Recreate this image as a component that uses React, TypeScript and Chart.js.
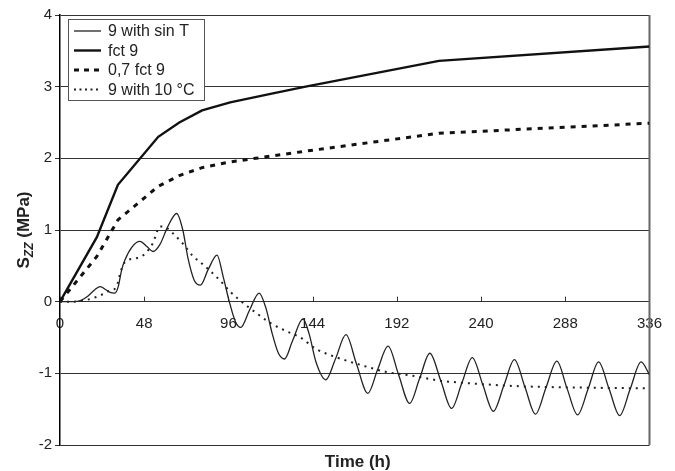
import { useEffect, useRef } from 'react';
import { Chart, registerables } from 'chart.js';
Chart.register(...registerables);

// ---- data ----
const sinTHours = [0, 8, 12, 16, 20, 23, 26, 28.5, 31.3, 33.2, 35.1, 37, 41, 45.5, 49.5, 53, 57, 61.5, 66.5, 70, 73, 76.5, 80, 84.5, 89.5, 93, 96.5, 100, 103, 108, 113.5, 117.5, 121, 124.5, 128, 132.5, 138.5, 142, 146, 151.5, 157, 163, 169, 175.5, 181, 187, 193, 199.3, 205, 210.8, 217, 223.2, 229, 235, 241, 247, 253, 259, 265, 271, 277, 283.2, 289, 295, 301, 307, 313, 319, 325, 331.2, 336];
const sinTValues = [0, 0, 0.02, 0.08, 0.17, 0.21, 0.17, 0.13, 0.12, 0.21, 0.44, 0.58, 0.76, 0.84, 0.77, 0.7, 0.8, 1.05, 1.23, 1.0, 0.6, 0.3, 0.23, 0.45, 0.65, 0.35, 0.0, -0.28, -0.36, -0.12, 0.12, -0.1, -0.45, -0.72, -0.8, -0.55, -0.24, -0.45, -0.85, -1.09, -0.8, -0.46, -0.87, -1.28, -0.95, -0.62, -1.02, -1.42, -1.07, -0.72, -1.1, -1.49, -1.14, -0.78, -1.16, -1.53, -1.17, -0.81, -1.19, -1.57, -1.2, -0.83, -1.21, -1.58, -1.22, -0.84, -1.22, -1.59, -1.22, -0.84, -1.02];

const fct9Hours = [0, 21, 33, 56, 68, 81, 97, 120, 140, 216, 336];
const fct9Values = [0, 0.9, 1.63, 2.3, 2.5, 2.67, 2.78, 2.9, 3.0, 3.36, 3.56];

const fct07Hours = [0, 21, 33, 56, 68, 81, 97, 120, 140, 216, 336];
const fct07Values = [0, 0.63, 1.14, 1.61, 1.76, 1.87, 1.95, 2.03, 2.1, 2.35, 2.49];

const tenCHours = [0, 8, 14, 19, 24, 28, 32, 35, 37, 44, 48, 53, 57, 60, 64.5, 70, 76, 80, 86, 91, 97, 101, 106, 112, 120, 128, 137, 146, 158, 171, 186, 200, 216, 240, 262, 300, 336];
const tenCValues = [0, 0, 0.02, 0.05, 0.1, 0.15, 0.2, 0.45, 0.55, 0.61, 0.66, 0.82, 1.05, 1.04, 0.95, 0.81, 0.63, 0.55, 0.42, 0.3, 0.14, 0.05, -0.05, -0.16, -0.3, -0.4, -0.5, -0.66, -0.78, -0.88, -0.98, -1.03, -1.1, -1.15, -1.18, -1.2, -1.21];

const seriesLabels = ['9 with sin T', 'fct 9', '0,7 fct 9', '9 with 10 °C'];
const xTickValues = [0, 48, 96, 144, 192, 240, 288, 336];
const yTickValues = [-2, -1, 0, 1, 2, 3, 4];
const xTitle = 'Time (h)';
const yTitleMain = 'S';
const yTitleSub = 'ZZ';
const yTitleRest = ' (MPa)';

const FONT = '"Liberation Sans", Arial, Helvetica, sans-serif';
const TEXT = '#222';

function pts(xs: number[], ys: number[]) {
  return xs.map((x, i) => ({ x, y: ys[i] }));
}

const decorPlugin = {
  id: 'decor',
  beforeDatasetsDraw(chart: any) {
    const { ctx, chartArea, scales } = chart;
    const x = scales.x;
    const y0 = scales.y.getPixelForValue(0);
    ctx.save();
    ctx.strokeStyle = '#333';
    ctx.lineWidth = 1;
    for (const v of xTickValues) {
      const px = Math.round(x.getPixelForValue(v)) + 0.5;
      ctx.beginPath();
      ctx.moveTo(px, y0);
      ctx.lineTo(px, y0 - 5);
      ctx.stroke();
    }
    // right frame
    ctx.strokeStyle = '#666';
    ctx.lineWidth = 2;
    ctx.beginPath();
    ctx.moveTo(chartArea.right, chartArea.top);
    ctx.lineTo(chartArea.right, chartArea.bottom);
    ctx.stroke();
    ctx.restore();
  },
  afterDraw(chart: any) {
    const { ctx, chartArea } = chart;
    ctx.save();
    // legend
    const lx = 68.5, ly = 19.5, lw = 136, lh = 81;
    ctx.fillStyle = '#fff';
    ctx.fillRect(lx, ly, lw, lh);
    ctx.strokeStyle = '#555';
    ctx.lineWidth = 1;
    ctx.strokeRect(lx, ly, lw, lh);
    ctx.font = `16px ${FONT}`;
    ctx.textBaseline = 'middle';
    ctx.textAlign = 'left';
    chart.data.datasets.forEach((ds: any, i: number) => {
      const yy = 31 + i * 19.5;
      ctx.strokeStyle = ds.borderColor;
      ctx.lineWidth = ds.borderWidth;
      ctx.setLineDash(ds.legendDash || []);
      ctx.beginPath();
      ctx.moveTo(74, yy);
      ctx.lineTo(101, yy);
      ctx.stroke();
      ctx.setLineDash([]);
      ctx.fillStyle = TEXT;
      ctx.fillText(ds.label, 108, yy + 1);
    });
    // x title
    ctx.font = `bold 17px ${FONT}`;
    ctx.textAlign = 'center';
    ctx.textBaseline = 'alphabetic';
    ctx.fillStyle = TEXT;
    ctx.fillText(xTitle, (chartArea.left + chartArea.right) / 2 + 3, 467);
    // y title
    ctx.translate(23, (chartArea.top + chartArea.bottom) / 2);
    ctx.rotate(-Math.PI / 2);
    const fMain = `bold 17px ${FONT}`;
    const fSub = `italic bold 12px ${FONT}`;
    ctx.font = fMain;
    const w1 = ctx.measureText(yTitleMain).width;
    const w3 = ctx.measureText(yTitleRest).width;
    ctx.font = fSub;
    const w2 = ctx.measureText(yTitleSub).width;
    let sx = -(w1 + w2 + w3) / 2;
    ctx.textAlign = 'left';
    ctx.font = fMain;
    ctx.fillText(yTitleMain, sx, 6);
    sx += w1;
    ctx.font = fSub;
    ctx.fillText(yTitleSub, sx, 10);
    sx += w2;
    ctx.font = fMain;
    ctx.fillText(yTitleRest, sx, 6);
    ctx.restore();
  },
};

export default function App() {
  const ref = useRef<HTMLCanvasElement>(null);
  useEffect(() => {
    const canvas = ref.current!;
    const chart = new Chart(canvas, {
      type: 'line',
      data: {
        datasets: [
          {
            label: seriesLabels[0],
            data: pts(sinTHours, sinTValues),
            borderColor: '#222',
            borderWidth: 1.3,
            cubicInterpolationMode: 'monotone',
            legendDash: [],
          } as any,
          {
            label: seriesLabels[1],
            data: pts(fct9Hours, fct9Values),
            borderColor: '#111',
            borderWidth: 2.4,
            tension: 0,
            legendDash: [],
          } as any,
          {
            label: seriesLabels[2],
            data: pts(fct07Hours, fct07Values),
            borderColor: '#111',
            borderWidth: 3,
            borderDash: [5, 6],
            tension: 0,
            legendDash: [5, 5],
          } as any,
          {
            label: seriesLabels[3],
            data: pts(tenCHours, tenCValues),
            borderColor: '#222',
            borderWidth: 2,
            borderDash: [2, 5],
            cubicInterpolationMode: 'monotone',
            legendDash: [2, 3.5],
          } as any,
        ],
      },
      options: {
        animation: false,
        responsive: false,
        devicePixelRatio: 1,
        layout: { padding: { left: 0, right: 25, top: 15, bottom: 26 } },
        elements: { point: { radius: 0 }, line: { fill: false } },
        plugins: { legend: { display: false }, tooltip: { enabled: false }, title: { display: false } },
        scales: {
          x: {
            type: 'linear',
            position: { y: 0 } as any,
            min: 0,
            max: 336,
            afterBuildTicks: (s: any) => {
              s.ticks = xTickValues.map((v) => ({ value: v }));
            },
            grid: { display: false, drawTicks: false },
            border: { display: false },
            ticks: { font: { family: FONT, size: 15 }, color: TEXT, padding: 13, maxRotation: 0, autoSkip: false },
          },
          y: {
            type: 'linear',
            min: -2,
            max: 4,
            afterBuildTicks: (s: any) => {
              s.ticks = yTickValues.map((v) => ({ value: v }));
            },
            afterFit: (s: any) => {
              s.width = 60;
            },
            grid: { color: '#333', lineWidth: 1, tickLength: 5 },
            border: { color: '#000', width: 1.5 },
            ticks: { font: { family: FONT, size: 15 }, color: TEXT, padding: 3 },
          },
        },
      },
      plugins: [decorPlugin],
    });
    return () => chart.destroy();
  }, []);
  return (
    <div style={{ position: 'fixed', left: 0, top: 0, width: 675, height: 471, background: '#fff' }}>
      <canvas ref={ref} width={675} height={471} style={{ display: 'block' }} />
    </div>
  );
}
